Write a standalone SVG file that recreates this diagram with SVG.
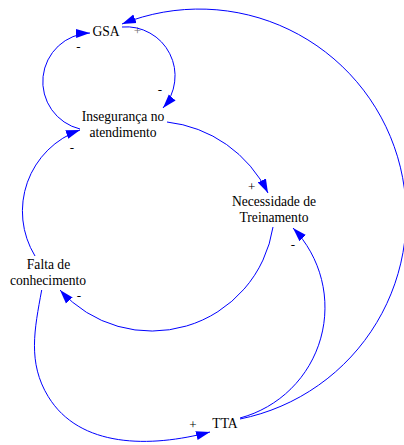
<svg xmlns="http://www.w3.org/2000/svg" width="404" height="445" viewBox="0 0 404 445">
  <style>
    .lbl { font-family: "Liberation Serif", "Times New Roman", serif; font-size: 13.6px; fill: #000; text-anchor: middle; }
    .pol { font-family: "Liberation Serif", "Times New Roman", serif; font-size: 13px; fill: #000; text-anchor: middle; }
    .pol-dim { fill: #707070; }
    .link { fill: none; stroke: #0000ff; stroke-width: 1; marker-end: url(#ah); }
  </style>
  <defs>
    <marker id="ah" viewBox="0 -5 14 10" refX="14" refY="0" markerWidth="14" markerHeight="10" orient="auto" markerUnits="userSpaceOnUse">
      <path d="M0,-4.5 L14,0 L0,4.5 Z" fill="#0000ff"/>
    </marker>
  </defs>
  <rect width="404" height="445" fill="#ffffff"/>

  <!-- polarity mark sitting under the GSA -> Insegurança link -->
  <text class="pol pol-dim" x="137.5" y="35">+</text>

  <g id="connectors">
    <!-- Insegurança -> GSA -->
    <path class="link" d="M80,129 A48.7,48.7 0 0 1 90,33"/>
    <!-- GSA -> Insegurança -->
    <path class="link" d="M122,27 A49,49 0 0 1 163,108"/>
    <!-- Insegurança -> Necessidade -->
    <path class="link" d="M167,122 A128.3,128.3 0 0 1 268,193"/>
    <!-- Necessidade -> Falta de conhecimento -->
    <path class="link" d="M273,227 A122.8,122.8 0 0 1 60,290"/>
    <!-- Falta de conhecimento -> Insegurança -->
    <path class="link" d="M35,256 A86,86 0 0 1 80,130"/>
    <!-- TTA -> Necessidade -->
    <path class="link" d="M240,418 A114.5,114.5 0 0 0 293,228"/>
    <!-- TTA -> GSA -->
    <path class="link" d="M240,419 A207,207 0 1 0 122,24"/>
    <!-- Falta de conhecimento -> TTA -->
    <path class="link" d="M41.7,290 C34.5,329.2 27.4,362.6 48.3,396.7 C79.6,447.9 150,448 210,432"/>

    <!-- polarity marks -->
    <text class="pol" x="78.5" y="51">-</text>
    <text class="pol" x="160" y="94">-</text>
    <text class="pol" x="72" y="152">-</text>
    <text class="pol" x="251.7" y="191">+</text>
    <text class="pol" x="293" y="249">-</text>
    <text class="pol" x="79" y="300">-</text>
    <text class="pol" x="193" y="429">+</text>
  </g>

  <g id="node-gsa">
    <text class="lbl" x="106" y="36">GSA</text>
  </g>
  <g id="node-inseguranca">
    <text class="lbl" x="123" y="121">Insegurança no</text>
    <text class="lbl" x="123" y="137.3">atendimento</text>
  </g>
  <g id="node-necessidade">
    <text class="lbl" x="274" y="205.5">Necessidade de</text>
    <text class="lbl" x="274" y="222">Treinamento</text>
  </g>
  <g id="node-falta">
    <text class="lbl" x="48.5" y="269">Falta de</text>
    <text class="lbl" x="48" y="285">conhecimento</text>
  </g>
  <g id="node-tta">
    <text class="lbl" x="225" y="427.7">TTA</text>
  </g>
</svg>
